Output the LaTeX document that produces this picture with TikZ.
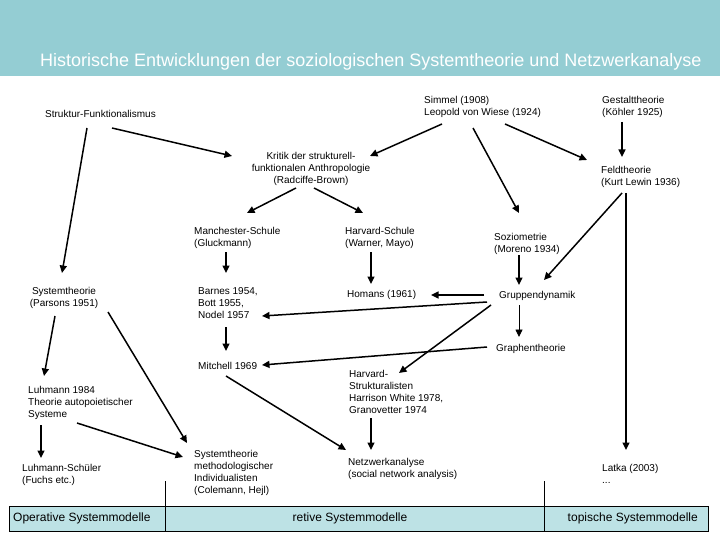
\documentclass[tikz,border=0pt]{standalone}
\usepackage{fontspec}
\setmainfont{Liberation Sans}
\usetikzlibrary{arrows.meta}
\definecolor{bandteal}{HTML}{94CDD3}
\definecolor{boxcyan}{HTML}{BDE2E5}

\begin{document}
\begin{tikzpicture}[x=1pt, y=-1pt,
    topic/.style={anchor=north west, inner sep=0pt, align=left,
                  font=\fontsize{10}{12}\selectfont},
    edge/.style={-{Triangle[length=7.5pt, width=7pt]}, line width=1.5pt},
    thinedge/.style={edge, line width=0.9pt},
    strip/.style={anchor=west, inner sep=0pt, font=\fontsize{12}{14}\selectfont},
  ]
  \useasboundingbox (0,0) rectangle (720,540);

  % title band
  \fill[bandteal] (0,0) rectangle (720,76);
  \node[anchor=west, inner sep=0pt, text=white, font=\fontsize{18}{22}\selectfont]
    (title) at (40,62) {Historische Entwicklungen der soziologischen Systemtheorie und Netzwerkanalyse};

  % topics
  \node[topic] (sf)  at (45,110)  {Struktur-Funktionalismus};
  \node[topic] (sim) at (424,96)  {Simmel (1908)\\Leopold von Wiese (1924)};
  \node[topic] (ges) at (602,96)  {Gestalttheorie\\(Köhler 1925)};
  \node[topic, anchor=north, align=center] (kri) at (311,152)
    {Kritik der strukturell-\\funktionalen Anthropologie\\(Radciffe-Brown)};
  \node[topic] (fel) at (601,166) {Feldtheorie\\(Kurt Lewin 1936)};
  \node[topic] (man) at (194,227) {Manchester-Schule\\(Gluckmann)};
  \node[topic] (hvs) at (345,227) {Harvard-Schule\\(Warner, Mayo)};
  \node[topic] (soz) at (494,233) {Soziometrie\\(Moreno 1934)};
  \node[topic, anchor=north, align=center] (par) at (64,287)
    {Systemtheorie\\(Parsons 1951)};
  \node[topic] (bar) at (198,287) {Barnes 1954,\\Bott 1955,\\Nodel 1957};
  \node[topic] (hom) at (347,290) {Homans (1961)};
  \node[topic] (gru) at (499,291) {Gruppendynamik};
  \node[topic] (gra) at (496,344) {Graphentheorie};
  \node[topic] (mit) at (198,362) {Mitchell 1969};
  \node[topic] (hst) at (349,370)
    {Harvard-\\Strukturalisten\\Harrison White 1978,\\Granovetter 1974};
  \node[topic] (luh) at (28,386)  {Luhmann 1984\\Theorie autopoietischer\\Systeme};
  \node[topic] (lsc) at (22,464)  {Luhmann-Schüler\\(Fuchs etc.)};
  \node[topic] (smi) at (194,450)
    {Systemtheorie\\methodologischer\\Individualisten\\(Colemann, Hejl)};
  \node[topic] (net) at (348,458) {Netzwerkanalyse\\(social network analysis)};
  \node[topic] (lat) at (602,464) {Latka (2003)\\...};

  % influences
  \draw[edge] ([shift={(42,18)}]sf.north west) -- ([shift={(-2,-14)}]par.north);
  \draw[edge] ([shift={(67,18)}]sf.north west) -- ([shift={(-79,4)}]kri.north);
  \draw[edge] ([shift={(-15,36)}]kri.north) -- ([shift={(53,-14)}]man.north west);
  \draw[edge] ([shift={(3,36)}]kri.north) -- ([shift={(18,-14)}]hvs.north west);
  \draw[edge] ([shift={(18,28)}]sim.north west) -- ([shift={(59,4)}]kri.north);
  \draw[edge] ([shift={(49,32)}]sim.north west) -- ([shift={(25,-20)}]soz.north west);
  \draw[edge] ([shift={(81,28)}]sim.north west) -- ([shift={(-14,-6)}]fel.north west);
  \draw[edge] ([shift={(20,26)}]ges.north west) -- ([shift={(21,-9)}]fel.north west);
  \draw[edge] ([shift={(21,27)}]fel.north west) -- ([shift={(45,-11)}]gru.north west);
  \draw[edge] ([shift={(25,27)}]fel.north west) -- ([shift={(24,-14)}]lat.north west);
  \draw[edge] ([shift={(32,25)}]man.north west) -- ([shift={(28,-14)}]bar.north west);
  \draw[edge] ([shift={(26,25)}]hvs.north west) -- ([shift={(24,-6)}]hom.north west);
  \draw[edge] ([shift={(25,22)}]soz.north west) -- ([shift={(20,-6)}]gru.north west);
  \draw[edge] ([shift={(-15,4)}]gru.north west) -- ([shift={(84,5)}]hom.north west);
  \draw[edge] ([shift={(-12,11)}]gru.north west) -- ([shift={(64,29)}]bar.north west);
  \draw[edge] ([shift={(-8,14)}]gru.north west) -- ([shift={(50,3)}]hst.north west);
  \draw[thinedge] ([shift={(20,14)}]gru.north west) -- ([shift={(23,-7)}]gra.north west);
  \draw[edge] ([shift={(-9,3)}]gra.north west) -- ([shift={(64,3)}]mit.north west);
  \draw[edge] ([shift={(28,40)}]bar.north west) -- ([shift={(28,-11)}]mit.north west);
  \draw[edge] ([shift={(-9,29)}]par.north) -- ([shift={(16,-10)}]luh.north west);
  \draw[edge] ([shift={(44,25)}]par.north) -- ([shift={(-7,-7)}]smi.north west);
  \draw[edge] ([shift={(13,39)}]luh.north west) -- ([shift={(19,-6)}]lsc.north west);
  \draw[edge] ([shift={(49,37)}]luh.north west) -- ([shift={(-11,7)}]smi.north west);
  \draw[edge] ([shift={(28,14)}]mit.north west) -- ([shift={(-2,-8)}]net.north west);
  \draw[edge] ([shift={(22,48)}]hst.north west) -- ([shift={(23,-8)}]net.north west);

  % model strip
  \draw[fill=boxcyan] (9,506) rectangle (708,531);
  \draw (165,481) -- (165,531);
  \draw (544,481) -- (544,531);
  \node[strip] (opm) at (13,518.5) {Operative Systemmodelle};
  \node[strip, anchor=center] (rem) at (350,518.5) {retive Systemmodelle};
  \node[strip, anchor=east] (tpm) at (698,518.5) {topische Systemmodelle};
\end{tikzpicture}
\end{document}
